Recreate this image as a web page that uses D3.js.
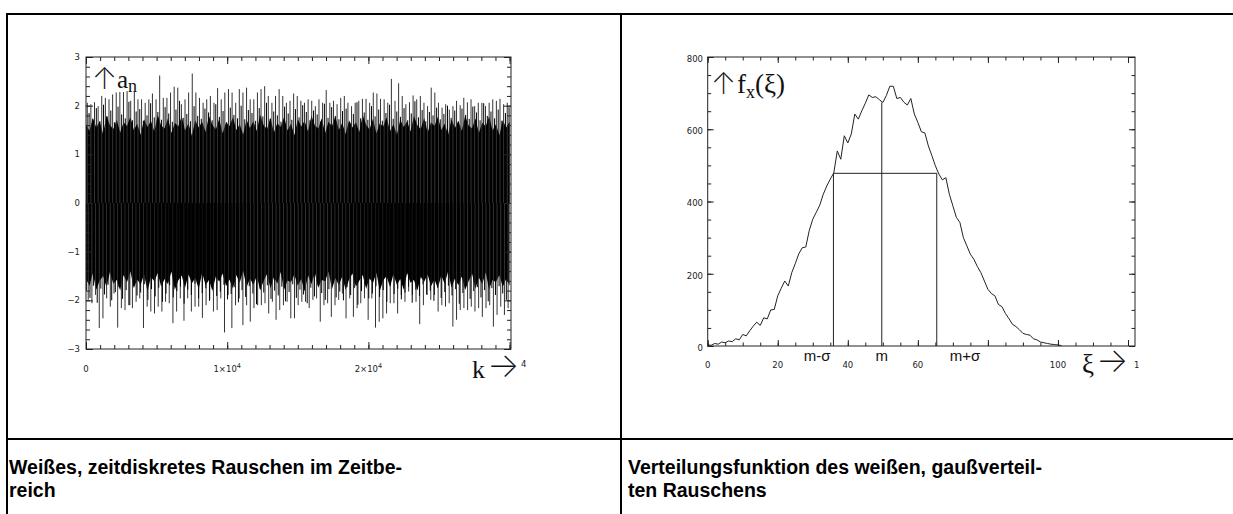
<!DOCTYPE html>
<html lang="de">
<head>
<meta charset="UTF-8">
<title>Weißes Rauschen</title>
<script src="https://d3js.org/d3.v7.min.js"></script>
<style>
    body { margin: 0; background: #fff; }
    .tick-label { font-family: "DejaVu Sans", sans-serif; font-size: 8.5px; fill: #222; }
    .math { font-family: "Liberation Serif", "DejaVu Serif", serif; fill: #111; }
    .arrow { font-family: Inter, "DejaVu Sans", sans-serif; font-weight: 200; }
    .caption { font-family: "Liberation Sans", Arial, sans-serif; font-weight: bold; font-size: 19.5px; fill: #000; }
    .frame { fill: none; stroke: #222; stroke-width: 1; }
    .axis path { display: none; }
    .axis line { stroke: #222; }
</style>
</head>
<body>
<div id="chart"></div>
<script>
// ---- left panel: white noise a_n over k (per-bin extremes) ----
const noiseUpper = [
    2.06, 2.03, 2.07, 1.99, 2.20, 2.16, 2.13, 2.23, 2.27, 2.28, 2.28, 2.30, 2.10, 2.28, 2.13, 2.13, 2.06, 2.13, 2.25, 2.13,
    2.62, 2.16, 2.16, 2.27, 2.39, 2.37, 2.03, 2.13, 2.27, 2.66, 2.27, 2.16, 2.06, 2.13, 2.20, 2.06, 2.36, 2.13, 2.27, 2.34,
    2.27, 2.06, 2.34, 2.27, 2.37, 2.13, 2.13, 2.27, 2.34, 2.40, 2.20, 2.06, 2.20, 2.34, 2.20, 2.06, 2.10, 2.25, 2.20, 2.10,
    2.06, 2.13, 2.10, 1.99, 2.13, 2.06, 2.32, 2.06, 2.10, 2.03, 2.16, 2.20, 2.06, 1.99, 2.06, 2.10, 2.14, 2.14, 2.06, 2.27,
    2.25, 2.14, 2.13, 2.06, 2.55, 2.10, 2.46, 2.20, 2.03, 2.07, 2.21, 2.13, 2.20, 2.06, 1.99, 2.37, 2.27, 2.06, 1.96, 2.03,
    1.92, 1.99, 2.10, 2.01, 2.16, 2.07, 2.13, 1.99, 2.06, 2.06, 1.99, 2.06, 2.13, 2.10, 2.14, 2.03, 2.06
];
const noiseUpper2 = [
    1.85, 1.72, 1.95, 1.68, 2.02, 1.78, 1.90, 1.66, 1.98, 1.82, 1.74, 2.08, 1.70, 1.88, 1.93, 1.69, 1.80, 2.05, 1.76, 1.87,
    1.71, 1.97, 1.84, 1.67, 1.92, 2.10, 1.75, 1.83, 1.68, 1.99, 1.79, 1.73, 1.94, 1.86, 1.70, 2.03, 1.77, 1.89, 1.66, 1.96,
    1.81, 1.74, 2.00, 1.72, 1.91, 1.85, 1.69, 1.95, 1.78, 2.06, 1.73, 1.88, 1.80, 1.67, 1.98, 1.84, 1.71, 1.93, 1.76, 2.01,
    1.87, 1.70, 1.90, 1.82, 1.68, 2.04, 1.75, 1.97, 1.79, 1.72, 1.89, 1.94, 1.66, 1.83, 2.07, 1.74, 1.86, 1.71, 1.99, 1.78,
    1.92, 1.69, 1.85, 2.02, 1.73, 1.88, 1.77, 1.95, 1.70, 1.84, 2.09, 1.76, 1.91, 1.68, 1.87, 1.80, 1.96, 1.72, 1.83, 2.00,
    1.75, 1.90, 1.67, 1.94, 1.81, 1.73, 1.98, 1.86, 1.70, 2.05, 1.79, 1.88, 1.74, 1.92, 1.69, 1.85, 1.97
];
const noiseLower = [
    -1.99, -2.06, -1.89, -2.57, -2.37, -1.96, -2.13, -1.86, -2.56, -2.16, -2.20, -2.10, -2.16, -2.03, -1.96, -2.57, -2.13, -2.23, -2.27, -2.13,
    -2.23, -2.03, -2.06, -2.47, -2.23, -1.96, -2.42, -1.96, -2.23, -2.13, -2.13, -2.36, -2.10, -1.99, -2.23, -2.20, -1.96, -2.66, -1.89, -2.57,
    -2.10, -1.96, -2.51, -2.10, -2.44, -2.16, -2.10, -2.10, -2.06, -2.27, -2.03, -2.40, -2.20, -2.10, -2.03, -2.37, -2.37, -2.10, -2.03, -2.03,
    -2.16, -1.99, -1.96, -2.44, -2.10, -2.06, -2.34, -2.10, -1.99, -1.86, -2.37, -1.96, -2.34, -2.16, -2.06, -1.96, -2.40, -1.96, -2.56, -2.44,
    -2.37, -2.27, -2.06, -2.06, -2.27, -1.89, -2.03, -1.82, -1.89, -2.03, -2.49, -2.10, -1.89, -1.99, -1.89, -2.23, -2.10, -2.13, -2.06, -2.54,
    -2.40, -2.20, -2.16, -2.20, -2.13, -2.23, -2.16, -2.34, -2.16, -2.10, -2.54, -2.30, -2.13, -2.30, -2.16
];
const noiseLower2 = [
    -1.80, -1.95, -1.70, -2.05, -1.76, -1.88, -1.68, -2.00, -1.83, -1.73, -1.97, -1.79, -2.10, -1.71, -1.90, -1.84, -1.67, -1.99, -1.77, -1.92,
    -1.74, -2.03, -1.86, -1.69, -1.94, -1.81, -1.72, -2.07, -1.78, -1.89, -1.66, -1.96, -1.85, -1.75, -2.01, -1.70, -1.91, -1.82, -1.68, -1.98,
    -1.87, -1.73, -2.04, -1.79, -1.93, -1.71, -1.86, -2.08, -1.76, -1.84, -1.69, -1.97, -1.80, -1.90, -1.72, -2.02, -1.83, -1.67, -1.95, -1.78,
    -1.88, -2.06, -1.74, -1.92, -1.70, -1.85, -1.99, -1.77, -1.68, -1.94, -1.82, -2.00, -1.73, -1.89, -1.75, -2.09, -1.81, -1.66, -1.96, -1.86,
    -1.71, -1.93, -1.79, -2.03, -1.69, -1.87, -1.76, -1.98, -1.84, -1.72, -2.05, -1.78, -1.91, -1.67, -1.88, -1.80, -2.01, -1.74, -1.95, -1.83,
    -1.70, -1.90, -1.77, -2.07, -1.85, -1.68, -1.97, -1.81, -1.73, -1.94, -1.79, -2.02, -1.75, -1.89, -1.71, -1.86, -1.99
];
const noiseCoreTop = [
    1.62, 1.48, 1.75, 1.55, 1.68, 1.42, 1.80, 1.60, 1.52, 1.71, 1.45, 1.66, 1.58, 1.77, 1.50, 1.63, 1.40, 1.72, 1.56, 1.69,
    1.47, 1.81, 1.59, 1.53, 1.74, 1.44, 1.65, 1.57, 1.78, 1.49, 1.64, 1.38, 1.70, 1.55, 1.67, 1.46, 1.79, 1.61, 1.51, 1.73,
    1.43, 1.66, 1.58, 1.76, 1.50, 1.62, 1.41, 1.71, 1.54, 1.68, 1.48, 1.82, 1.60, 1.52, 1.75, 1.45, 1.64, 1.56, 1.77, 1.49,
    1.63, 1.39, 1.72, 1.57, 1.69, 1.47, 1.80, 1.59, 1.53, 1.74, 1.44, 1.67, 1.58, 1.78, 1.50, 1.65, 1.42, 1.70, 1.55, 1.66,
    1.46, 1.81, 1.61, 1.51, 1.73, 1.43, 1.64, 1.57, 1.76, 1.48, 1.62, 1.40, 1.71, 1.56, 1.68, 1.47, 1.79, 1.60, 1.52, 1.75,
    1.45, 1.66, 1.58, 1.77, 1.50, 1.63, 1.41, 1.72, 1.54, 1.69, 1.48, 1.80, 1.59, 1.53, 1.74, 1.44, 1.65, 1.57, 1.78, 1.49,
    1.62, 1.39, 1.70, 1.55, 1.67
];
const noiseCoreBottom = [
    -1.55, -1.70, -1.45, -1.78, -1.60, -1.50, -1.73, -1.42, -1.66, -1.58, -1.80, -1.48, -1.63, -1.40, -1.75, -1.57, -1.68, -1.46, -1.82, -1.52,
    -1.61, -1.44, -1.72, -1.56, -1.67, -1.41, -1.79, -1.59, -1.49, -1.74, -1.47, -1.65, -1.54, -1.77, -1.43, -1.69, -1.58, -1.81, -1.51, -1.62,
    -1.45, -1.71, -1.57, -1.76, -1.48, -1.64, -1.39, -1.73, -1.55, -1.68, -1.50, -1.80, -1.60, -1.46, -1.75, -1.53, -1.66, -1.42, -1.78, -1.59,
    -1.63, -1.47, -1.70, -1.56, -1.82, -1.49, -1.67, -1.44, -1.74, -1.58, -1.61, -1.40, -1.77, -1.54, -1.69, -1.51, -1.79, -1.57, -1.45, -1.72,
    -1.60, -1.48, -1.76, -1.55, -1.65, -1.43, -1.81, -1.59, -1.50, -1.73, -1.46, -1.68, -1.56, -1.78, -1.44, -1.64, -1.58, -1.80, -1.52, -1.62,
    -1.47, -1.71, -1.57, -1.75, -1.49, -1.66, -1.41, -1.74, -1.55, -1.69, -1.51, -1.79, -1.61, -1.45, -1.76, -1.53, -1.67, -1.43, -1.77, -1.58,
    -1.63, -1.48, -1.72, -1.56, -1.70
];
const noiseSamples = 30000;
const leftYTicks = [-3, -2, -1, 0, 1, 2, 3];
const leftXTicks = [0, 10000, 20000];
const leftXLabels = ['0', '1×10', '2×10'];

// ---- right panel: histogram f_x(ξ), ξ = 0, 1, 2, ... ----
const histCounts = [
    3, 2, 7, 5, 11, 9, 14, 12, 20, 17, 32, 28, 42, 55, 66, 57, 78, 75, 100, 101,
    139, 160, 180, 166, 203, 228, 255, 272, 274, 320, 351, 370, 390, 420, 443, 462, 479, 540, 517, 582,
    562, 587, 642, 628, 651, 672, 695, 688, 690, 682, 674, 693, 719, 719, 685, 688, 675, 667, 685, 642,
    619, 593, 590, 554, 527, 499, 476, 460, 466, 420, 388, 356, 342, 300, 277, 254, 240, 220, 203, 180,
    157, 145, 139, 115, 109, 90, 76, 60, 54, 45, 35, 32, 30, 20, 17, 11, 9, 7, 5, 4,
    3, 1
];
const sigmaNames = ['m-σ', 'm', 'm+σ'];
const sigmaXi = [35.9, 49.7, 65.4];
const sigmaTop = [478, 674, 478];
const rightYTicks = [0, 200, 400, 600, 800];
const rightXLabels = [0, 20, 40, 60, 100];

const W = 1233, H = 514;
const svg = d3.select('#chart').append('svg')
    .attr('width', W).attr('height', H);

// table borders
const border = svg.append('g').attr('stroke', '#000').attr('stroke-width', 2);
border.append('line').attr('x1', 6).attr('x2', W).attr('y1', 14).attr('y2', 14);
border.append('line').attr('x1', 7).attr('x2', 7).attr('y1', 13).attr('y2', H);
border.append('line').attr('x1', 621).attr('x2', 621).attr('y1', 13).attr('y2', H);
border.append('line').attr('x1', 6).attr('x2', W).attr('y1', 439).attr('y2', 439);

// captions
const cap1 = svg.append('text').attr('class', 'caption').attr('x', 9).attr('y', 474);
cap1.append('tspan').attr('x', 9).text('Weißes, zeitdiskretes Rauschen im Zeitbe-');
cap1.append('tspan').attr('x', 9).attr('dy', 23).text('reich');
const cap2 = svg.append('text').attr('class', 'caption').attr('x', 628).attr('y', 474);
cap2.append('tspan').attr('x', 628).text('Verteilungsfunktion des weißen, gaußverteil-');
cap2.append('tspan').attr('x', 628).attr('dy', 23).text('ten Rauschens');

function boxTicks(g, x, y, major, minor, yMajor, yMinor, majLen, minLen) {
    const [x0, x1] = x.range();
    const [y0, y1] = y.range();
    const add = (axis, tx, ty, vals, len) =>
        g.append('g').attr('class', 'axis').attr('transform', `translate(${tx},${ty})`)
            .call(axis.tickValues(vals).tickSize(-len).tickFormat(''));
    add(d3.axisBottom(x), 0, y0, minor, minLen);
    add(d3.axisBottom(x), 0, y0, major, majLen);
    add(d3.axisTop(x), 0, y1, minor, minLen);
    add(d3.axisTop(x), 0, y1, major, majLen);
    add(d3.axisLeft(y), x0, 0, yMinor, minLen);
    add(d3.axisLeft(y), x0, 0, yMajor, majLen);
    add(d3.axisRight(y), x1, 0, yMinor, minLen);
    add(d3.axisRight(y), x1, 0, yMajor, majLen);
    g.append('rect').attr('class', 'frame')
        .attr('x', x0).attr('y', y1).attr('width', x1 - x0).attr('height', y0 - y1);
}

// ================= left panel =================
{
    const x = d3.scaleLinear().domain([0, 30100]).range([86, 511]);
    const y = d3.scaleLinear().domain([-3, 3]).range([349, 57]);
    const g = svg.append('g');

    const coreX = i => x(i * noiseSamples / (noiseCoreTop.length - 1));
    g.append('path')
        .datum(noiseCoreTop)
        .attr('fill', '#000')
        .attr('d', d3.area()
            .x((d, i) => coreX(i))
            .y0((d, i) => y(noiseCoreBottom[i]))
            .y1(d => y(d)));

    // spikes: one set of extremes per bin plus an interleaved set of smaller ones
    const spikes = (arr, shift, color) => {
        const n = arr.length;
        g.append('g').selectAll('line')
            .data(arr).enter().append('line')
            .attr('x1', (d, i) => x((i + shift) * noiseSamples / n))
            .attr('x2', (d, i) => x((i + shift) * noiseSamples / n))
            .attr('y1', y(0)).attr('y2', d => y(d))
            .attr('stroke', color).attr('stroke-width', 1);
    };
    spikes(noiseUpper, 0.35, '#333');
    spikes(noiseUpper2, 0.85, '#000');
    spikes(noiseLower, 0.6, '#333');
    spikes(noiseLower2, 0.1, '#000');

    boxTicks(g, x, y, leftXTicks.concat([30000]), d3.range(0, 30001, 1000),
        leftYTicks, d3.range(-3, 3.01, 0.2), 7, 4);

    g.selectAll('text.yl').data(leftYTicks).enter().append('text')
        .attr('class', 'tick-label')
        .attr('x', 80).attr('y', d => y(d)).attr('dy', '0.35em')
        .attr('text-anchor', 'end')
        .text(d => d < 0 ? '−' + (-d) : d);

    const xl = g.selectAll('text.xl').data(leftXTicks).enter().append('text')
        .attr('class', 'tick-label')
        .attr('x', d => x(d)).attr('y', 372)
        .attr('text-anchor', 'middle');
    xl.append('tspan').text((d, i) => leftXLabels[i]);
    xl.filter(d => d > 0).append('tspan').attr('dy', -4).attr('font-size', '6.5px').text('4');

    // axis titles
    g.append('text').attr('class', 'math arrow').attr('font-size', 30)
        .attr('x', 92).attr('y', 89).text('↑');
    g.append('text').attr('class', 'math').attr('font-size', 25)
        .attr('x', 117).attr('y', 88).text('a')
        .append('tspan').attr('font-size', 18).attr('dy', 4).text('n');
    const kx = g.append('text').attr('class', 'math').attr('font-size', 26)
        .attr('x', 472).attr('y', 378).text('k');
    kx.append('tspan').attr('class', 'arrow').attr('font-size', 34).attr('dx', 2).attr('dy', -1).text('→');
    g.append('text').attr('class', 'tick-label').attr('font-size', '6.5px')
        .attr('x', 521).attr('y', 367).text('4');
}

// ================= right panel =================
{
    const x = d3.scaleLinear().domain([0, 122]).range([707.7, 1135]);
    const y = d3.scaleLinear().domain([0, 800]).range([346, 57]);
    const g = svg.append('g');

    boxTicks(g, x, y, [0, 20, 40, 60, 80, 100, 120], d3.range(0, 122, 5),
        rightYTicks, d3.range(0, 801, 50), 6, 3.5);

    g.append('path')
        .datum(histCounts)
        .attr('fill', 'none').attr('stroke', '#222').attr('stroke-width', 1)
        .attr('d', d3.line().x((d, i) => x(i)).y(d => y(d)));

    // sigma markers
    g.selectAll('line.sig').data(sigmaXi).enter().append('line')
        .attr('x1', d => x(d)).attr('x2', d => x(d))
        .attr('y1', y(0)).attr('y2', (d, i) => y(sigmaTop[i]))
        .attr('stroke', '#222').attr('stroke-width', 1);
    g.append('line')
        .attr('x1', x(sigmaXi[0])).attr('x2', x(sigmaXi[2]))
        .attr('y1', y(sigmaTop[0])).attr('y2', y(sigmaTop[0]))
        .attr('stroke', '#222').attr('stroke-width', 1);

    const offs = [-3, 0, 13];
    const anchors = ['end', 'middle', 'start'];
    g.selectAll('text.sig').data(sigmaNames).enter().append('text')
        .attr('font-family', '"Liberation Sans", Arial, sans-serif')
        .attr('font-size', 15).attr('fill', '#111')
        .attr('x', (d, i) => x(sigmaXi[i]) + offs[i]).attr('y', 361)
        .attr('text-anchor', (d, i) => anchors[i])
        .text(d => d);

    g.selectAll('text.yl').data(rightYTicks).enter().append('text')
        .attr('class', 'tick-label')
        .attr('x', 703).attr('y', d => y(d) + 2).attr('dy', '0.35em')
        .attr('text-anchor', 'end').text(d => d);
    g.selectAll('text.xl').data(rightXLabels).enter().append('text')
        .attr('class', 'tick-label')
        .attr('x', d => x(d)).attr('y', 368)
        .attr('text-anchor', 'middle').text(d => d);

    g.append('text').attr('class', 'math arrow').attr('font-size', 30)
        .attr('x', 711).attr('y', 94).text('↑');
    const fx = g.append('text').attr('class', 'math').attr('font-size', 27)
        .attr('x', 737).attr('y', 93).text('f');
    fx.append('tspan').attr('font-size', 18).attr('dy', 5).text('x');
    fx.append('tspan').attr('dy', -5).text('(ξ)');
    const xi = g.append('text').attr('class', 'math').attr('font-size', 27)
        .attr('x', 1082).attr('y', 373).text('ξ');
    xi.append('tspan').attr('class', 'arrow').attr('font-size', 34).attr('dx', 2).attr('dy', -1).text('→');
    g.append('text').attr('class', 'tick-label').attr('font-size', '6.5px')
        .attr('x', 1134).attr('y', 368).text('1');
}
</script>
</body>
</html>
